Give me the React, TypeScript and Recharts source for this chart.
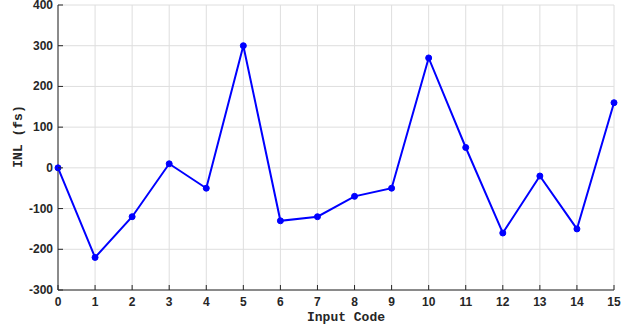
import { LineChart, Line, XAxis, YAxis, CartesianGrid, Label } from "recharts"

// Input codes and measured INL values (fs)
const codes = [0, 1, 2, 3, 4, 5, 6, 7, 8, 9, 10, 11, 12, 13, 14, 15]
const inl = [0, -220, -120, 10, -50, 300, -130, -120, -70, -50, 270, 50, -160, -20, -150, 160]

const xTicks = [0, 1, 2, 3, 4, 5, 6, 7, 8, 9, 10, 11, 12, 13, 14, 15]
const yTicks = [-300, -200, -100, 0, 100, 200, 300, 400]

const data = codes.map((code, i) => ({ code, inl: inl[i] }))

const AXIS = "#262626"
const TICK_FONT = "'Liberation Sans', Arial, sans-serif"
const LABEL_FONT = "'Liberation Mono', 'Courier New', monospace"
const MARK = 5

const BottomTick = (props: any) => {
  const { x, y, payload } = props
  const axisY = y - 4
  return (
    <g>
      <line x1={x} x2={x} y1={axisY} y2={axisY - MARK} stroke={AXIS} />
      <text x={x} y={axisY + 16} textAnchor="middle" fontSize={12} fontWeight="bold" fill={AXIS} fontFamily={TICK_FONT}>
        {payload.value}
      </text>
    </g>
  )
}

const LeftTick = (props: any) => {
  const { x, y, payload } = props
  const axisX = x + 5
  return (
    <g>
      <line x1={axisX} x2={axisX + MARK} y1={y} y2={y} stroke={AXIS} />
      <text x={x} y={y + 4} textAnchor="end" fontSize={12} fontWeight="bold" fill={AXIS} fontFamily={TICK_FONT}>
        {payload.value}
      </text>
    </g>
  )
}

const TopTick = (props: any) => {
  const { x, y } = props
  return <line x1={x} x2={x} y1={y} y2={y + MARK} stroke={AXIS} />
}

const RightTick = (props: any) => {
  const { x, y } = props
  return <line x1={x} x2={x - MARK} y1={y} y2={y} stroke={AXIS} />
}

const YTitle = (props: any) => {
  const { viewBox } = props
  const cx = viewBox.x + 18
  const cy = viewBox.y + viewBox.height / 2 - 11
  return (
    <text
      x={cx}
      y={cy}
      transform={`rotate(-90, ${cx}, ${cy})`}
      textAnchor="middle"
      dominantBaseline="central"
      fontFamily={LABEL_FONT}
      fontWeight="bold"
      fontSize={13}
      fill={AXIS}
    >
      INL (fs)
    </text>
  )
}

export default function App() {
  return (
    <div style={{ position: "absolute", left: 0, top: 0, background: "#fff" }}>
      <LineChart width={634} height={333} data={data} margin={{ top: 5, right: 20, left: 0, bottom: 8 }}>
        <CartesianGrid stroke="#dedede" strokeWidth={1} />
        <XAxis
          dataKey="code"
          type="number"
          domain={[0, 15]}
          ticks={xTicks}
          interval={0}
          height={35}
          tickSize={0}
          tickMargin={4}
          tickLine={false}
          stroke={AXIS}
          tick={<BottomTick />}
          label={{
            value: "Input Code",
            position: "insideBottom",
            offset: 4,
            dx: 10,
            style: { fontFamily: LABEL_FONT, fontWeight: "bold", fontSize: 13, fill: AXIS },
          }}
        />
        <XAxis
          xAxisId="top"
          orientation="top"
          dataKey="code"
          type="number"
          domain={[0, 15]}
          ticks={xTicks}
          interval={0}
          height={0}
          tickSize={0}
          tickMargin={0}
          tickLine={false}
          stroke={AXIS}
          tick={<TopTick />}
        />
        <YAxis
          type="number"
          domain={[-300, 400]}
          ticks={yTicks}
          interval={0}
          width={58}
          tickSize={0}
          tickMargin={5}
          tickLine={false}
          stroke={AXIS}
          tick={<LeftTick />}
        >
          <Label content={<YTitle />} />
        </YAxis>
        <YAxis
          yAxisId="right"
          orientation="right"
          type="number"
          domain={[-300, 400]}
          ticks={yTicks}
          interval={0}
          width={0}
          tickSize={0}
          tickMargin={0}
          tickLine={false}
          stroke={AXIS}
          tick={<RightTick />}
        />
        <Line
          dataKey="inl"
          stroke="#0000ff"
          strokeWidth={2}
          dot={{ r: 3, fill: "#0000ff", stroke: "#0000ff", strokeWidth: 1 }}
          isAnimationActive={false}
        />
      </LineChart>
    </div>
  )
}
